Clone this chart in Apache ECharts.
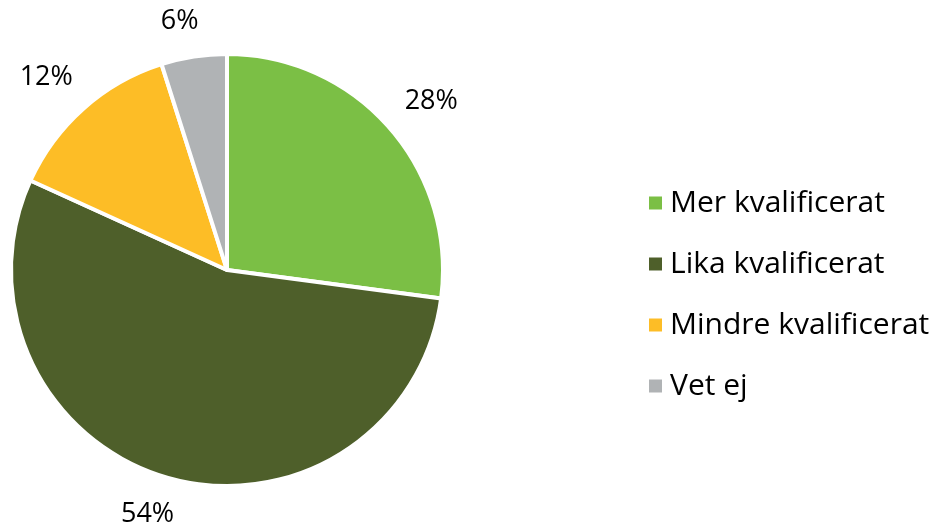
<!DOCTYPE html>
<html>
<head>
<meta charset="utf-8">
<script src="https://cdn.jsdelivr.net/npm/echarts@6/dist/echarts.min.js"></script>
<style>
  html, body { margin: 0; padding: 0; background: #fff; }
  #main { width: 952px; height: 529px; }
</style>
</head>
<body>
<div id="main"></div>
<script>
// kategorier
var categories = ['Mer kvalificerat', 'Lika kvalificerat', 'Mindre kvalificerat', 'Vet ej'];
// tårtbitarnas storlek som de är ritade (%)
var sliceShares = [27.1, 54.7, 13.3, 4.9];
// procentsatserna som står utskrivna i bilden
var labelShares = [28, 54, 12, 6];
var sliceColors = ['#7bbf45', '#4e5f2a', '#fdbd26', '#b0b3b5'];

var font = 'Open Sans';
var pieCenter = [227, 270];
var pieRadius = 216;
var labelGap = 20;

// placera etiketten utanför kanten, som "utanför slut" i Excel
function placeLabel(params) {
  var i = params.dataIndex;
  var before = 0;
  for (var j = 0; j < i; j++) before += labelShares[j];
  var mid = (before + labelShares[i] / 2) / 100 * Math.PI * 2;
  var dx = Math.sin(mid), dy = -Math.cos(mid);
  var w = params.labelRect.width, h = params.labelRect.height;
  var d = pieRadius + labelGap + Math.abs(dx) * w / 2 + Math.abs(dy) * h / 2;
  return {
    x: pieCenter[0] + dx * d,
    y: pieCenter[1] + dy * d,
    align: 'center',
    verticalAlign: 'middle'
  };
}

var myChart = echarts.init(document.getElementById('main'));

var option = {
  animation: false,
  legend: {
    orient: 'vertical',
    left: 642,
    top: 183,
    itemWidth: 15,
    itemHeight: 15,
    itemGap: 31,
    icon: 'rect',
    data: categories,
    selectedMode: false,
    textStyle: { fontFamily: font, fontSize: 30, color: '#000', lineHeight: 30, padding: [0, 0, 0, 2] }
  },
  series: [
    {
      type: 'pie',
      center: pieCenter,
      radius: [0, pieRadius],
      startAngle: 90,
      clockwise: true,
      silent: true,
      itemStyle: { borderColor: '#fff', borderWidth: 4 },
      label: {
        show: true,
        position: 'inside',
        overflow: 'none',
        formatter: function (p) { return labelShares[p.dataIndex] + '%'; },
        fontFamily: font,
        fontSize: 27,
        color: '#000'
      },
      labelLine: { show: false },
      labelLayout: placeLabel,
      data: categories.map(function (name, i) {
        return { name: name, value: sliceShares[i], itemStyle: { color: sliceColors[i] } };
      })
    }
  ]
};

myChart.setOption(option);
</script>
</body>
</html>
